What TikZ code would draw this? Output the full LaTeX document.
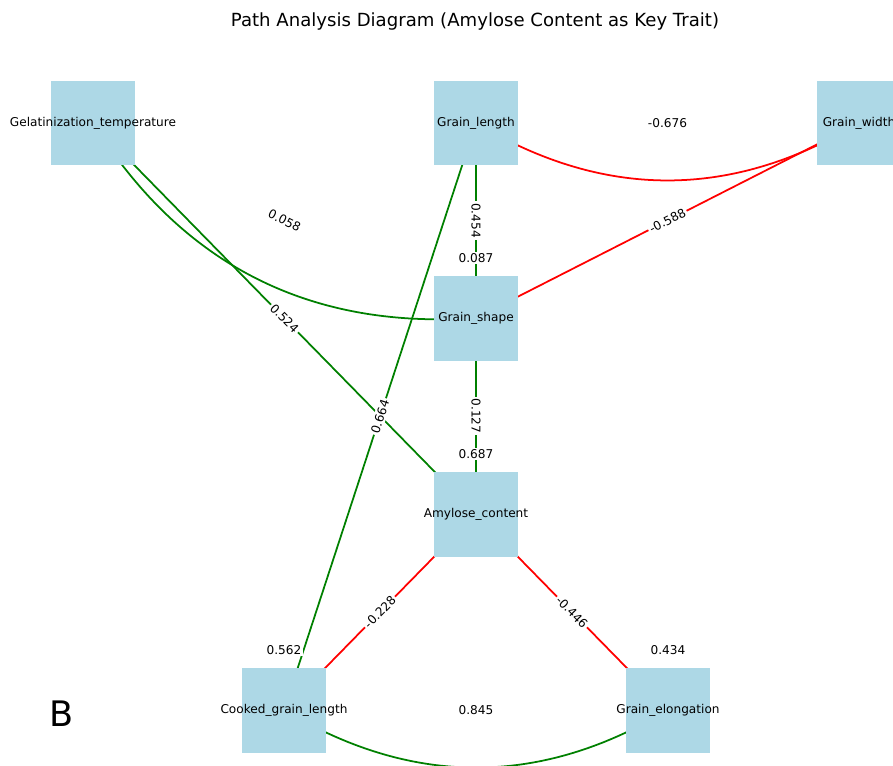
\documentclass[tikz,border=0pt]{standalone}
\usepackage{fontspec}
\setmainfont{DejaVu Sans}
\usetikzlibrary{calc,backgrounds}

\definecolor{boxblue}{HTML}{ADD8E6}
\definecolor{posgreen}{HTML}{008000}
\definecolor{negred}{HTML}{FF0000}

\tikzstyle{trait}=[shape=rectangle,
                   fill=boxblue,
                   minimum height=1.7cm,
                   minimum width=1.7cm,
                   inner sep=0pt]
\tikzstyle{tname}=[font=\fontsize{6.9}{8}\selectfont,
                   text=black]
\tikzstyle{coef}=[fill=white,
                  inner sep=1pt,
                  font=\fontsize{6.9}{8}\selectfont,
                  text=black]
\tikzstyle{poseff}=[draw=posgreen,line width=1pt]
\tikzstyle{negeff}=[draw=negred,line width=1pt]

\begin{document}
\begin{tikzpicture}[x=0.02cm,y=-0.02cm]
\useasboundingbox (0,0) rectangle (893,765);
\clip (0,0) rectangle (893,765);

% title
\node[font=\fontsize{10.3}{12}\selectfont] (title) at (475,22) {Path Analysis Diagram (Amylose Content as Key Trait)};

% traits
\node[trait,label={[tname]center:Gelatinization\_temperature}] (gt) at (93,123) {};
\node[trait,label={[tname]center:Grain\_length}] (gl) at (476,123) {};
\node[trait,label={[tname]center:Grain\_width}] (gw) at (859,123) {};
\node[trait,label={[tname]center:Grain\_shape}] (gs) at (476,318) {};
\node[trait,label={[tname]center:Amylose\_content}] (ac) at (476,514) {};
\node[trait,label={[tname]center:Cooked\_grain\_length}] (cg) at (284,710) {};
\node[trait,label={[tname]center:Grain\_elongation}] (ge) at (668,710) {};

% paths
\begin{scope}[on background layer]
\draw[poseff] (gt.center) .. controls (181.7,264.6) and (309.3,329.6) .. (gs.center);
\draw[poseff] (gt.center) -- (ac.center);
\draw[poseff] (gl.center) -- (gs.center);
\draw[poseff] (gs.center) -- (ac.center);
\draw[poseff] (cg.center) -- (gl.center);
\draw[negeff] (gl.center) .. controls (603.7,199.6) and (731.3,199.6) .. (gw.center);
\draw[negeff] (gs.center) -- (gw.center);
\draw[negeff] (cg.center) -- (ac.center);
\draw[negeff] (ac.center) -- (ge.center);
\draw[poseff] (cg.center) .. controls (412,786.8) and (540,786.8) .. (ge.center);
\end{scope}

% path coefficients
\path (gt.center) -- node[coef,sloped] (c1) {0.058} (gs.center);
\path (gt.center) -- node[coef,sloped] (c2) {0.524} (ac.center);
\path (gl.center) -- node[coef,sloped] (c3) {0.454} (gs.center);
\path (gs.center) -- node[coef,sloped] (c4) {0.127} (ac.center);
\path (cg.center) -- node[coef,sloped] (c5) {0.664} (gl.center);
\path (gl.center) -- node[coef,sloped] (c6) {-0.676} (gw.center);
\path (gs.center) -- node[coef,sloped] (c7) {-0.588} (gw.center);
\path (cg.center) -- node[coef,sloped] (c8) {-0.228} (ac.center);
\path (ac.center) -- node[coef,sloped] (c9) {-0.446} (ge.center);
\path (cg.center) -- node[coef,sloped] (c10) {0.845} (ge.center);

% R squared values
\node[coef] (r1) at ($(gs.center)+(0,-60)$) {0.087};
\node[coef] (r2) at ($(ac.center)+(0,-60)$) {0.687};
\node[coef] (r3) at ($(cg.center)+(0,-60)$) {0.562};
\node[coef] (r4) at ($(ge.center)+(0,-60)$) {0.434};

% panel letter
\node[font=\fontsize{20}{24}\selectfont] (panel) at (62,714) {B};

\end{tikzpicture}
\end{document}
